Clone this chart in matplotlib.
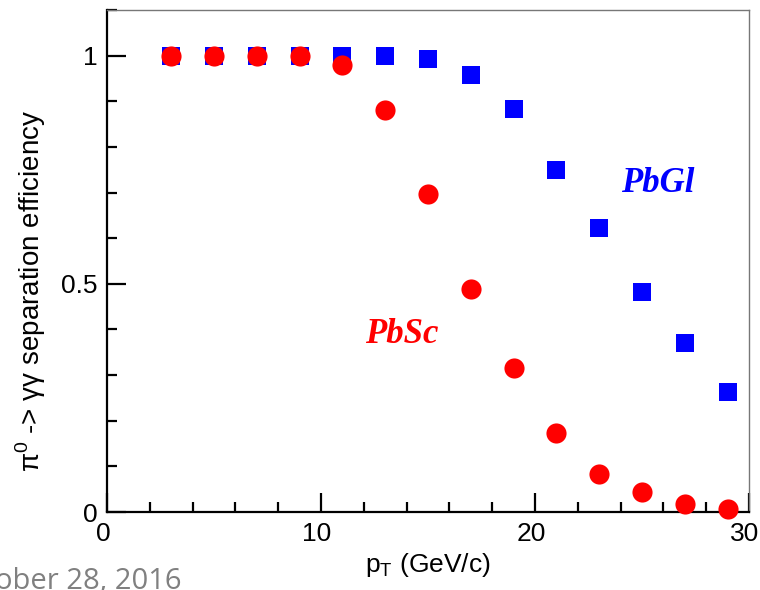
import numpy as np
import matplotlib
matplotlib.use("Agg")
import matplotlib.pyplot as plt
import matplotlib.transforms as mtransforms
from matplotlib.ticker import FixedLocator, FixedFormatter

# pT bin centres (GeV/c)
pt = [3, 5, 7, 9, 11, 13, 15, 17, 19, 21, 23, 25, 27, 29]

# separation efficiency per calorimeter
eff_pbgl = [1.0, 1.0, 1.0, 1.0, 1.0, 1.0, 0.993, 0.958, 0.882, 0.750, 0.623, 0.481, 0.370, 0.263]
eff_pbsc = [1.0, 1.0, 1.0, 1.0, 0.980, 0.881, 0.697, 0.489, 0.316, 0.173, 0.083, 0.043, 0.018, 0.007]

y_ticks = [0, 0.5, 1]
y_tick_labels = ["0", "0.5", "1"]
x_ticks = [0, 10, 20, 30]


fig = plt.figure(figsize=(7.6, 5.9), dpi=100)
ax = fig.add_axes([107 / 760, 78 / 590, 642 / 760, 502 / 590])

ax.plot(pt, eff_pbgl, linestyle="none", marker="s", markersize=13.5,
        color="#0000ff", markeredgewidth=0, clip_on=False, zorder=3)
ax.plot(pt, eff_pbsc, linestyle="none", marker="o", markersize=14.5,
        color="#ff0000", markeredgewidth=0, clip_on=False, zorder=4)

ax.set_xlim(0, 30)
ax.set_ylim(0, 1.1)

# ROOT-like frame: heavy left/bottom axes, thin grey box on top/right
for side in ("left", "bottom"):
    ax.spines[side].set_linewidth(1.6)
    ax.spines[side].set_color("black")
for side in ("top", "right"):
    ax.spines[side].set_linewidth(1.0)
    ax.spines[side].set_color("#777777")

ax.xaxis.set_major_locator(FixedLocator(x_ticks))
ax.xaxis.set_minor_locator(FixedLocator(np.arange(0, 30.1, 2)))
ax.yaxis.set_major_locator(FixedLocator(y_ticks))
ax.yaxis.set_major_formatter(FixedFormatter(y_tick_labels))
ax.yaxis.set_minor_locator(FixedLocator(np.round(np.arange(0, 1.101, 0.1), 2)))

ax.tick_params(which="both", direction="in", top=False, right=False,
               width=1.6, color="black", labelsize=19)
ax.tick_params(which="major", length=13.5)
ax.tick_params(which="minor", length=7)
ax.tick_params(axis="x", which="major", pad=7)
ax.tick_params(axis="y", which="major", pad=7)

# ROOT puts the x labels a few pixels left of their ticks
shift = mtransforms.ScaledTranslation(-4 / 100, 0, fig.dpi_scale_trans)
for lab in ax.get_xticklabels():
    lab.set_fontfamily("Liberation Sans")
    lab.set_transform(lab.get_transform() + shift)
for lab in ax.get_yticklabels():
    lab.set_fontfamily("Liberation Sans")

ax.set_xlabel(r"p$_\mathregular{T}$ (GeV/c)", fontsize=19,
              family="Liberation Sans", labelpad=4)
ax.set_ylabel(r"π$^\mathregular{0}$ -> γγ separation efficiency",
              fontsize=20, family="Liberation Sans")
ax.yaxis.set_label_coords(-0.092, 0.44)

ax.text(24.0, 0.702, "PbGl", color="#0000ff", fontsize=25,
        family="Liberation Serif", fontweight="bold", fontstyle="italic")
ax.text(12.07, 0.37, "PbSc", color="#ff0000", fontsize=25,
        family="Liberation Serif", fontweight="bold", fontstyle="italic")

# slide footer, partly cut off at the left edge
fig.text(182 / 760, 1 / 590, "October 28, 2016", ha="right", va="baseline",
         fontsize=21, color="#808080", family="Open Sans")

fig.savefig("out.png", dpi=100)
